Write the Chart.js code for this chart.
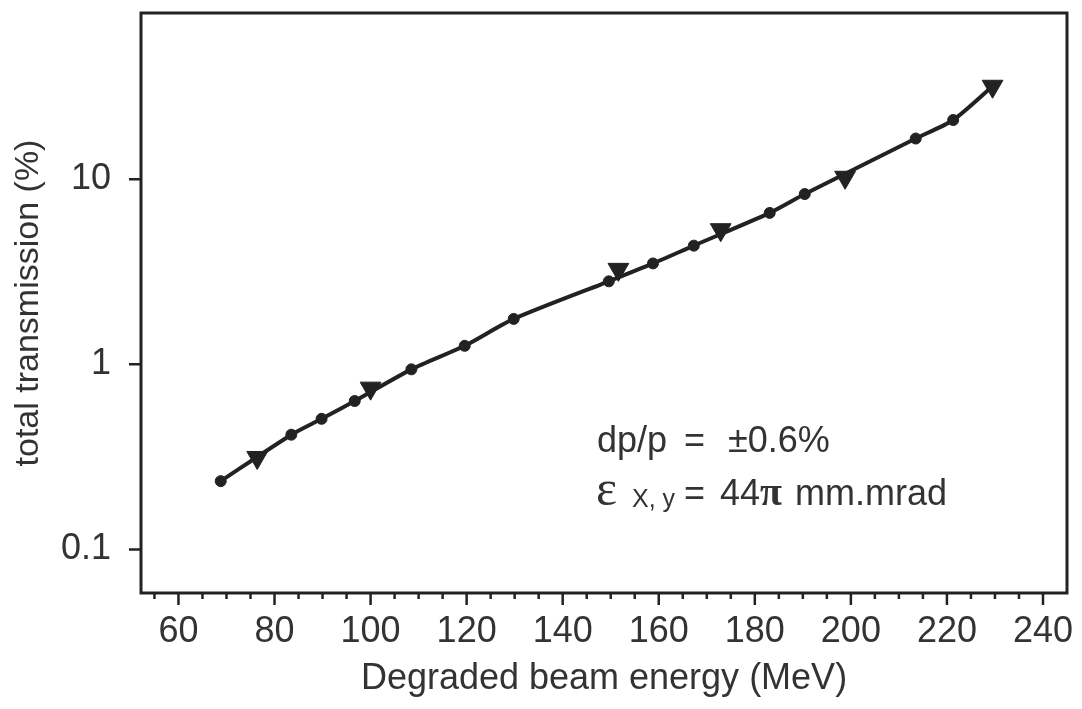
<!DOCTYPE html>
<html>
<head>
<meta charset="utf-8">
<script src="https://cdn.jsdelivr.net/npm/chart.js@4.4.1/dist/chart.umd.min.js"></script>
<style>
  html, body { margin: 0; padding: 0; background: #fff; }
  #wrap { width: 1082px; height: 709px; position: relative; }
</style>
</head>
<body>
<div id="wrap"><canvas id="myChart"></canvas></div>
<script>
// measured points (circles) and triangle markers
var circle_energy = [68.8, 83.5, 89.8, 96.7, 108.5, 119.6, 129.8, 149.6, 158.8, 167.3, 183.1, 190.4, 213.5, 221.3];
var circle_trans  = [0.234, 0.417, 0.508, 0.634, 0.94, 1.26, 1.76, 2.81, 3.51, 4.38, 6.58, 8.32, 16.6, 20.9];
var tri_energy = [76.4, 100, 151.6, 172.9, 198.8, 229.5];
var tri_trans  = [0.314, 0.744, 3.26, 5.34, 10.25, 31.8];

var x_ticks = [55, 60, 65, 70, 75, 80, 85, 90, 95, 100, 105, 110, 115, 120, 125, 130, 135, 140, 145, 150,
               155, 160, 165, 170, 175, 180, 185, 190, 195, 200, 205, 210, 215, 220, 225, 230, 235, 240];
var x_labels = [60, 80, 100, 120, 140, 160, 180, 200, 220, 240];
var y_ticks = [0.1, 1, 10];

var FONT = "'Liberation Sans', Arial, sans-serif";
var SERIF = "'Liberation Serif', 'DejaVu Serif', serif";
var INK = "#222";
var TXT = "#333";

// line goes through the circles and ends on the last triangle
var line_pts = [];
for (let i = 0; i < circle_energy.length; i++) line_pts.push({x: circle_energy[i], y: circle_trans[i]});
line_pts.push({x: tri_energy[tri_energy.length - 1], y: tri_trans[tri_trans.length - 1]});

var circle_pts = circle_energy.map(function (e, i) { return {x: e, y: circle_trans[i]}; });
var tri_pts = tri_energy.map(function (e, i) { return {x: e, y: tri_trans[i]}; });

function noPad(s) {
  s.paddingTop = 0; s.paddingBottom = 0; s.paddingLeft = 0; s.paddingRight = 0;
}

// frame, tick marks and the text block
var framePlugin = {
  id: 'frame',
  afterDraw: function (chart) {
    var ctx = chart.ctx, a = chart.chartArea;
    var xs = chart.scales.x, ys = chart.scales.y;
    ctx.save();
    ctx.strokeStyle = INK;
    ctx.lineWidth = 3;
    ctx.strokeRect(a.left, a.top, a.right - a.left, a.bottom - a.top);

    ctx.lineWidth = 2.5;
    ctx.beginPath();
    x_ticks.forEach(function (v) {
      var px = xs.getPixelForValue(v);
      var len = (x_labels.indexOf(v) >= 0) ? 12 : 6;
      ctx.moveTo(px, a.bottom);
      ctx.lineTo(px, a.bottom + len);
    });
    y_ticks.forEach(function (v) {
      var py = ys.getPixelForValue(v);
      ctx.moveTo(a.left, py);
      ctx.lineTo(a.left - 12, py);
    });
    ctx.stroke();

    // annotation
    ctx.fillStyle = TXT;
    ctx.textBaseline = 'alphabetic';
    ctx.font = "36px " + FONT;
    ctx.fillText("dp/p", 597, 452);
    ctx.fillText("=", 684, 452);
    ctx.fillText("\u00B10.6%", 728, 452);

    ctx.font = "50px " + SERIF;
    ctx.fillText("\u03B5", 596, 505);
    ctx.font = "25px " + FONT;
    ctx.fillText("X, y", 632, 507);
    ctx.font = "36px " + FONT;
    ctx.fillText("=", 684, 505);
    ctx.fillText("44", 720, 505);
    var w44 = ctx.measureText("44").width;
    ctx.font = "bold 40px " + SERIF;
    ctx.fillText("\u03C0", 720 + w44, 505);
    ctx.font = "36px " + FONT;
    ctx.fillText("mm.mrad", 795, 505);
    ctx.restore();
  }
};

const config = {
  type: 'scatter',
  data: {
    datasets: [
      {
        label: 'curve',
        data: line_pts,
        showLine: true,
        borderColor: INK,
        borderWidth: 4,
        pointRadius: 0,
        tension: 0.25,
        order: 3
      },
      {
        label: 'circles',
        data: circle_pts,
        pointStyle: 'circle',
        pointRadius: 5.5,
        backgroundColor: INK,
        borderColor: INK,
        borderWidth: 1,
        order: 2
      },
      {
        label: 'triangles',
        data: tri_pts,
        pointStyle: 'triangle',
        rotation: 180,
        pointRadius: 12,
        backgroundColor: INK,
        borderColor: INK,
        borderWidth: 1,
        order: 1
      }
    ]
  },
  options: {
    responsive: true,
    maintainAspectRatio: false,
    animation: false,
    layout: { padding: { top: 7, right: 15, left: 0, bottom: 0 } },
    plugins: {
      legend: { display: false },
      tooltip: { enabled: false }
    },
    scales: {
      x: {
        type: 'linear',
        min: 52.2,
        max: 245,
        afterFit: function (s) { s.height = 116; noPad(s); },
        afterBuildTicks: function (s) { s.ticks = x_ticks.map(function (v) { return {value: v}; }); },
        grid: { display: false },
        border: { display: false },
        ticks: {
          autoSkip: false,
          maxRotation: 0,
          padding: 9,
          color: TXT,
          font: { family: FONT, size: 36 },
          callback: function (v) { return x_labels.indexOf(v) >= 0 ? String(v) : ''; }
        },
        title: {
          display: true,
          text: 'Degraded beam energy (MeV)',
          color: TXT,
          font: { family: FONT, size: 36 },
          padding: { top: 0, bottom: 8 }
        }
      },
      y: {
        type: 'logarithmic',
        min: 0.0582,
        max: 79.1,
        afterFit: function (s) { s.width = 141; noPad(s); },
        afterBuildTicks: function (s) { s.ticks = y_ticks.map(function (v) { return {value: v}; }); },
        grid: { display: false },
        border: { display: false },
        ticks: {
          autoSkip: false,
          padding: 22,
          color: TXT,
          font: { family: FONT, size: 36 },
          callback: function (v) { return String(v); }
        },
        title: {
          display: true,
          text: 'total transmission (%)',
          color: TXT,
          font: { family: FONT, size: 34 },
          padding: { top: 8, bottom: 0 }
        }
      }
    }
  },
  plugins: [framePlugin]
};

const myChart = new Chart(document.getElementById('myChart'), config);
</script>
</body>
</html>
